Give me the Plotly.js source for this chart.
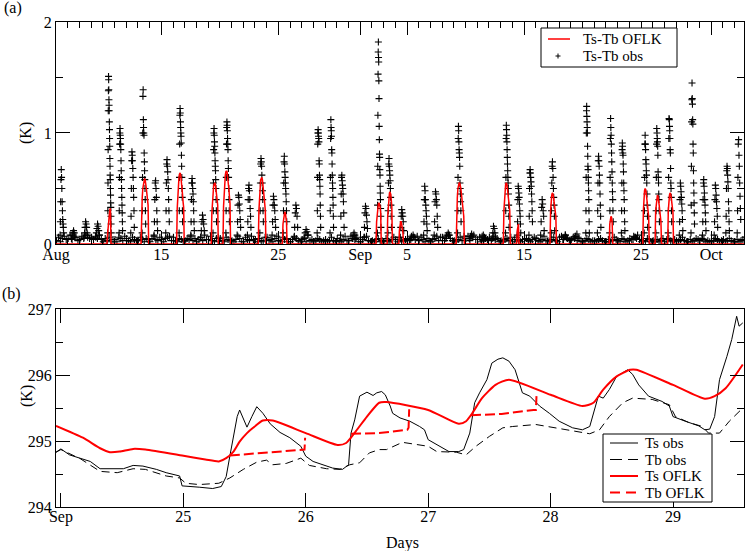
<!DOCTYPE html>
<html>
<head>
<meta charset="utf-8">
<script src="https://cdn.plot.ly/plotly-3.0.1.min.js"></script>
<style>html,body{margin:0;padding:0;background:#fff;}#chart{width:746px;height:551px;}</style>
</head>
<body>
<div id="chart"></div>
<script>
// ---------------- Panel (a) data : day numbers (Aug d = d, Sep d = 31+d, Oct d = 61+d)
const topTickVals = [6, 15, 25, 32, 36, 46, 56, 62];
const topTickText = ['Aug', '15', '25', 'Sep', '5', '15', '25', 'Oct'];
const firstDay = 6;

// night/background Ts-Tb obs, hundredths of K, 6 samples per day (days 6..64)
const baseHund = [
 [3,6,2,5,7,4],[5,8,4,7,6,3],[4,7,5,8,6,5],[6,4,7,5,8,4],[2,5,3,6,2,4],[4,2,6,5,3,7],
 [5,3,2,6,4,3],[3,6,4,2,5,4],[2,5,7,4,3,6],[4,2,5,6,7,3],[6,3,2,5,4,2],[3,5,4,7,3,5],
 [2,4,6,3,8,4],[4,7,3,2,5,6],[5,3,2,6,4,3],[3,2,4,7,5,2],[2,6,4,3,7,4],[4,2,5,3,2,6],
 [6,3,4,2,5,7],[3,2,6,4,5,2],[2,4,7,5,3,2],[4,6,2,8,3,4],[2,3,5,4,2,3],[4,2,3,6,3,2],
 [5,3,2,4,7,3],[3,7,5,4,6,2],[2,4,6,7,3,2],[3,2,4,5,2,3],[2,5,3,2,4,6],[4,2,6,3,2,4],
 [5,3,7,6,4,7],[3,6,4,2,5,3],[2,4,5,7,3,6],[6,3,7,8,5,3],[3,2,4,6,3,7],[5,7,3,6,8,4],
 [4,6,2,3,5,4],[6,3,7,4,5,2],[3,2,4,5,3,6],[2,4,6,3,2,4],[4,5,3,2,4,6],[5,3,2,4,7,3],
 [3,2,4,6,3,2],[6,7,4,8,5,3],[4,6,7,3,5,2],[2,3,5,4,2,3],[3,2,4,5,3,2],[2,4,2,3,6,4],
 [3,2,5,4,2,3],[5,4,7,6,8,4],[2,3,2,5,4,2],[3,2,4,2,3,5],[2,4,5,3,2,4],[3,2,4,6,3,2],
 [2,4,2,3,5,4],[3,5,4,2,3,2],[2,3,5,4,2,3],[4,2,3,5,3,2],[2,4,2,3,4,6]
];

// daytime burst of each day (time of peak, days) and its values (K)
const colCenter = [6.43,7.4,8.48,9.48,10.5,11.47,12.47,13.44,14.46,15.46,16.6,17.6,18.45,19.5,20.6,
 21.56,22.44,23.5,24.55,25.5,26.43,27.3,28.4,29.5,30.4,31.4,32.4,33.55,34.45,35.5,36.4,37.5,38.4,
 39.4,40.4,41.4,42.4,43.35,44.5,45.5,46.5,47.5,48.4,49.4,50.4,51.36,52.35,53.4,54.4,55.4,56.35,
 57.35,58.4,59.35,60.35,61.33,62.33,63.33,64.3];
const colVals = [
 [0.08,0.2,0.38,0.58,0.67,0.6,0.5,0.38,0.3,0.22,0.18,0.15,0.1],
 [0.05,0.08,0.1,0.12,0.1,0.06],
 [0.06,0.1,0.15,0.2,0.18,0.15,0.1,0.08],
 [0.06,0.1,0.14,0.18,0.16,0.12,0.08],
 [0.1,0.3,0.55,0.85,1.2,1.38,1.51,1.48,1.39,1.3,1.25,1.2,1.1,1.03,0.95,0.88,0.77,0.7,0.62,0.58,0.5,0.44,0.37,0.33,0.25,0.18,0.1],
 [0.1,0.3,0.6,0.9,1.0,1.04,0.98,0.95,0.9,0.85,0.75,0.66,0.58,0.5,0.42,0.35,0.28,0.2,0.12],
 [0.1,0.25,0.5,0.75,0.83,0.8,0.75,0.68,0.6,0.5,0.42,0.3,0.15],
 [0.1,0.3,0.6,1.0,1.33,1.39,1.12,1.05,1.0,0.98,0.82,0.74,0.66,0.58,0.5,0.4,0.3,0.18],
 [0.08,0.2,0.4,0.55,0.57,0.5,0.42,0.3,0.2,0.12],
 [0.1,0.3,0.55,0.72,0.76,0.7,0.65,0.58,0.5,0.4,0.3,0.2],
 [0.1,0.3,0.6,0.9,1.16,1.22,1.18,1.1,1.05,1.0,0.97,0.91,0.8,0.7,0.6,0.5,0.42,0.3,0.2],
 [0.08,0.2,0.4,0.55,0.59,0.55,0.5,0.45,0.38,0.3,0.2,0.12],
 [0.06,0.12,0.2,0.26,0.22,0.18,0.12],
 [0.1,0.3,0.55,0.85,1.0,1.04,0.98,0.92,0.88,0.82,0.75,0.7,0.66,0.58,0.5,0.4,0.3,0.2],
 [0.1,0.3,0.6,0.9,1.05,1.1,1.07,1.02,0.95,0.9,0.85,0.75,0.68,0.6,0.5,0.4,0.3,0.2],
 [0.08,0.2,0.35,0.44,0.42,0.36,0.3,0.22,0.15],
 [0.08,0.2,0.4,0.5,0.53,0.48,0.4,0.32,0.25,0.15],
 [0.1,0.3,0.55,0.72,0.77,0.74,0.7,0.62,0.55,0.48,0.4,0.3,0.2],
 [0.08,0.2,0.35,0.43,0.4,0.35,0.3,0.22,0.15],
 [0.1,0.3,0.55,0.74,0.79,0.72,0.65,0.6,0.55,0.5,0.45,0.38,0.3,0.2],
 [0.06,0.15,0.28,0.35,0.32,0.25,0.15],
 [0.05,0.1,0.13,0.11,0.08],
 [0.1,0.3,0.6,0.9,1.0,1.03,1.0,0.97,0.95,0.92,0.75,0.72,0.62,0.58,0.52,0.45,0.35,0.25,0.15],
 [0.1,0.3,0.6,0.95,1.12,1.05,1.02,0.97,0.85,0.82,0.72,0.62,0.55,0.5,0.42,0.35,0.25,0.15],
 [0.08,0.25,0.45,0.6,0.62,0.57,0.53,0.5,0.45,0.38,0.28,0.15],
 [0.05,0.08,0.1,0.08,0.05],
 [0.06,0.15,0.28,0.34,0.32,0.26,0.2,0.14],
 [0.1,0.35,0.7,1.16,1.53,1.73,1.82,1.68,1.64,1.47,1.31,1.06,0.94,0.81,0.78,0.67,0.62,0.52,0.46,0.4,0.32,0.25,0.15],
 [0.1,0.3,0.55,0.72,0.77,0.7,0.66,0.62,0.57,0.5,0.42,0.35,0.25,0.15],
 [0.06,0.15,0.25,0.31,0.28,0.25,0.2,0.12],
 [0.04,0.06,0.08,0.06],
 [0.08,0.2,0.4,0.52,0.48,0.4,0.35,0.3,0.25,0.18,0.12],
 [0.08,0.2,0.38,0.47,0.45,0.4,0.35,0.25,0.15],
 [0.05,0.08,0.1,0.08],
 [0.1,0.3,0.6,0.95,1.06,1.02,0.92,0.85,0.82,0.78,0.7,0.55,0.5,0.45,0.38,0.3,0.2],
 [0.05,0.07,0.09,0.07],
 [0.04,0.07,0.08,0.06],
 [0.05,0.1,0.16,0.14,0.1,0.06],
 [0.1,0.3,0.6,0.95,1.07,1.03,0.98,0.92,0.85,0.78,0.72,0.66,0.6,0.55,0.5,0.45,0.35,0.25,0.15],
 [0.08,0.2,0.4,0.52,0.5,0.46,0.42,0.36,0.3,0.25,0.18,0.1],
 [0.08,0.25,0.5,0.64,0.67,0.64,0.6,0.56,0.52,0.45,0.38,0.3,0.2],
 [0.08,0.2,0.33,0.4,0.36,0.3,0.25,0.12],
 [0.1,0.3,0.55,0.7,0.74,0.68,0.6,0.5,0.42,0.35,0.25,0.12],
 [0.04,0.06,0.08,0.06],
 [0.05,0.07,0.09,0.06],
 [0.1,0.3,0.6,1.0,1.2,1.24,1.15,1.1,1.05,1.0,0.88,0.79,0.7,0.67,0.6,0.55,0.48,0.4,0.3,0.2,0.1],
 [0.1,0.3,0.55,0.75,0.79,0.75,0.7,0.62,0.55,0.45,0.35,0.25,0.15],
 [0.1,0.3,0.6,0.95,1.13,1.05,0.98,0.9,0.82,0.74,0.65,0.55,0.47,0.4,0.3,0.2],
 [0.1,0.3,0.55,0.85,0.91,0.88,0.82,0.8,0.72,0.65,0.55,0.48,0.4,0.3,0.2,0.12],
 [0.04,0.06,0.05],
 [0.1,0.3,0.6,0.9,0.98,0.9,0.85,0.76,0.72,0.66,0.62,0.55,0.45,0.35,0.25,0.15],
 [0.1,0.3,0.6,0.9,1.04,1.0,0.95,0.92,0.88,0.8,0.65,0.6,0.55,0.45,0.4,0.3,0.2],
 [0.1,0.3,0.6,0.95,1.13,1.12,1.06,1.02,0.95,0.85,0.82,0.68,0.55,0.5,0.42,0.3,0.2],
 [0.08,0.2,0.4,0.55,0.52,0.47,0.42,0.36,0.3,0.22,0.12],
 [0.1,0.35,0.7,1.1,1.3,1.45,1.31,1.26,1.12,1.08,0.9,0.82,0.66,0.55,0.46,0.37,0.28,0.18],
 [0.08,0.2,0.4,0.55,0.58,0.52,0.46,0.4,0.35,0.28,0.2,0.12],
 [0.08,0.2,0.4,0.53,0.5,0.44,0.38,0.32,0.25,0.15],
 [0.1,0.25,0.5,0.66,0.7,0.68,0.62,0.56,0.5,0.38,0.3,0.2,0.12],
 [0.1,0.3,0.6,0.9,0.94,0.8,0.7,0.55,0.43,0.32,0.22]
];

// OFLK Ts-Tb : start time of each stratification event and values every 0.05 day
const spikeStart = [10.35,13.27,16.31,19.27,20.27,23.29,25.35,33.35,34.3,35.3,40.2,44.23,45.37,48.22,53.28,56.15,57.2,58.28];
const spikeVals = [
 [0,0.08,0.16,0.22,0.27,0.31,0.32,0],
 [0,0.3,0.42,0.5,0.55,0.58,0.59,0.58,0.55,0.5,0.45,0.4,0.35,0],
 [0,0.32,0.46,0.55,0.6,0.63,0.64,0.62,0.58,0.52,0.45,0.38,0.33,0],
 [0,0.28,0.4,0.47,0.52,0.54,0.55,0.54,0.5,0.46,0.4,0.35,0],
 [0,0.34,0.48,0.57,0.62,0.65,0.66,0.65,0.61,0.56,0.5,0.43,0.37,0],
 [0,0.3,0.44,0.52,0.57,0.59,0.6,0.58,0.54,0.48,0.42,0.36,0.3,0],
 [0,0.18,0.24,0.27,0.29,0.28,0.25,0.2,0],
 [0,0.2,0.28,0.33,0.36,0.37,0.36,0.33,0.28,0],
 [0,0.25,0.35,0.42,0.46,0.47,0.45,0.4,0.34,0],
 [0,0.12,0.17,0.2,0.2,0.18,0.14,0.1,0],
 [0,0.3,0.42,0.5,0.54,0.55,0.55,0.53,0.5,0.45,0.4,0.35,0.3,0.25,0],
 [0,0.3,0.42,0.5,0.54,0.55,0.54,0.5,0.45,0.4,0.35,0.3,0],
 [0,0.12,0.16,0.18,0],
 [0,0.3,0.4,0.44,0.46,0.45,0.42,0.38,0.34,0.3,0.25,0],
 [0,0.18,0.23,0.25,0.24,0.2,0],
 [0,0.3,0.42,0.48,0.5,0.49,0.45,0.4,0.35,0.3,0.25,0],
 [0,0.3,0.38,0.42,0.44,0.43,0.4,0.35,0.3,0.25,0.2,0],
 [0,0.3,0.4,0.44,0.46,0.45,0.42,0.38,0.33,0.28,0]
];
const spikeStep = 0.05;
const topRange = [6, 64.8];

// ---------------- Panel (b) data : days of September
const botTickVals = [24, 25, 26, 27, 28, 29];
const botTickText = ['Sep', '25', '26', '27', '28', '29'];

const tsObsX = [23.96,24.0,24.07,24.16,24.24,24.32,24.40,24.51,24.59,24.67,24.78,24.86,24.97,24.99,25.13,25.24,25.31,25.35,25.38,25.41,25.44,25.46,25.49,25.52,25.56,25.60,25.65,25.71,25.79,25.87,25.96,26.0,26.06,26.14,26.22,26.30,26.35,26.37,26.40,26.44,26.50,26.55,26.58,26.62,26.65,26.69,26.71,26.77,26.85,26.93,26.97,27.0,27.09,27.17,27.25,27.29,27.34,27.38,27.42,27.48,27.52,27.57,27.61,27.66,27.71,27.75,27.77,27.83,27.91,27.99,28.07,28.18,28.26,28.32,28.36,28.39,28.43,28.48,28.54,28.59,28.63,28.67,28.72,28.80,28.91,28.97,29.0,29.10,29.21,29.26,29.30,29.34,29.38,29.44,29.48,29.52,29.54,29.57];
const tsObsY = [294.83,294.88,294.79,294.74,294.69,294.58,294.58,294.58,294.63,294.62,294.57,294.52,294.47,294.32,294.30,294.28,294.31,294.46,294.77,295.07,295.37,295.47,295.35,295.21,295.37,295.52,295.42,295.26,295.13,295.05,294.92,294.77,294.69,294.64,294.59,294.57,294.64,295.12,295.32,295.68,295.74,295.69,295.73,295.75,295.70,295.53,295.42,295.35,295.30,295.22,295.17,295.02,294.92,294.84,294.84,294.87,295.12,295.58,295.73,295.93,296.18,296.24,296.26,296.21,296.08,295.83,295.73,295.68,295.53,295.42,295.30,295.20,295.17,295.22,295.47,295.68,295.65,295.78,295.98,296.03,296.08,296.01,295.85,295.68,295.60,295.53,295.37,295.30,295.23,295.17,295.18,295.37,295.93,296.28,296.54,296.89,296.74,296.79];

const tbObsX = [23.96,24.0,24.16,24.32,24.46,24.59,24.69,24.86,24.97,25.02,25.13,25.29,25.38,25.49,25.60,25.68,25.73,25.84,25.96,26.03,26.17,26.28,26.36,26.44,26.52,26.60,26.66,26.79,27.0,27.07,27.23,27.31,27.39,27.50,27.61,27.69,27.88,28.04,28.21,28.32,28.40,28.48,28.59,28.67,28.83,28.97,29.02,29.13,29.24,29.29,29.38,29.46,29.57];
const tbObsY = [294.83,294.87,294.73,294.54,294.52,294.58,294.57,294.47,294.44,294.36,294.34,294.36,294.44,294.57,294.68,294.71,294.64,294.66,294.74,294.63,294.58,294.57,294.64,294.67,294.82,294.87,294.87,294.98,294.92,294.84,294.83,294.79,294.92,295.07,295.20,295.22,295.25,295.20,295.15,295.11,295.17,295.37,295.58,295.65,295.63,295.55,295.37,295.28,295.22,295.12,295.12,295.30,295.50];

const tsOflkX = [23.96,24.18,24.32,24.40,24.48,24.59,24.69,24.99,25.18,25.29,25.35,25.41,25.46,25.52,25.57,25.65,25.73,26.0,26.26,26.33,26.41,26.50,26.60,26.66,27.0,27.25,27.31,27.36,27.44,27.55,27.66,28.0,28.26,28.35,28.43,28.54,28.65,28.70,29.0,29.26,29.34,29.43,29.57];
const tsOflkY = [295.23,295.05,294.89,294.83,294.84,294.88,294.87,294.78,294.72,294.69,294.74,294.84,294.99,295.12,295.20,295.31,295.31,295.12,294.94,294.97,295.15,295.37,295.58,295.59,295.47,295.26,295.30,295.42,295.65,295.85,295.93,295.70,295.53,295.58,295.78,295.98,296.08,296.08,295.85,295.64,295.68,295.80,296.16];

const tbOflkX = [25.38,25.6,25.8,25.97,25.99,25.995,null,26.37,26.6,26.83,26.84,26.845,null,27.35,27.6,27.86,27.88,27.885];
const tbOflkY = [294.78,294.81,294.84,294.87,294.87,295.05,null,295.11,295.12,295.17,295.2,295.48,null,295.39,295.41,295.47,295.47,295.68];

// ---------------- build panel (a) series from the arrays
const obsX = [], obsY = [];
baseHund.forEach((day, d) => {
  day.forEach((v, k) => { obsX.push(firstDay + d + 0.04 + k / 6); obsY.push(v / 100); });
});
colVals.forEach((vals, i) => {
  const start = colCenter[i] - 0.08, n = vals.length;
  vals.forEach((v, k) => { obsX.push(start + 0.3 * k / (n - 1)); obsY.push(v); });
});
const ofX = [topRange[0]], ofY = [0];
spikeStart.forEach((s, i) => {
  spikeVals[i].forEach((v, k) => { ofX.push(s + k * spikeStep); ofY.push(v); });
});
ofX.push(topRange[1]); ofY.push(0);

const RED = 'rgb(255,0,0)';
const FAM = 'Liberation Serif';
const FONT = {family: FAM, size: 16, color: '#000'};
const LFONT = {family: FAM, size: 15, color: '#000'};

const traces = [
  {x: obsX, y: obsY, xaxis: 'x', yaxis: 'y', type: 'scatter', mode: 'markers', name: 'Ts-Tb obs',
   marker: {symbol: 'cross-thin', size: 5, color: '#000', line: {width: 1.1, color: '#000'}}, showlegend: false},
  {x: ofX, y: ofY, xaxis: 'x', yaxis: 'y', type: 'scatter', mode: 'lines', name: 'Ts-Tb OFLK',
   line: {color: RED, width: 1.5}, showlegend: false},
  {x: tsObsX, y: tsObsY, xaxis: 'x2', yaxis: 'y2', type: 'scatter', mode: 'lines', name: 'Ts obs',
   line: {color: '#000', width: 1}, showlegend: false},
  {x: tbObsX, y: tbObsY, xaxis: 'x2', yaxis: 'y2', type: 'scatter', mode: 'lines', name: 'Tb obs',
   line: {color: '#000', width: 1, dash: '8px,5px'}, showlegend: false},
  {x: tsOflkX, y: tsOflkY, xaxis: 'x2', yaxis: 'y2', type: 'scatter', mode: 'lines', name: 'Ts OFLK',
   line: {color: RED, width: 2, shape: 'spline', smoothing: 0.6}, showlegend: false},
  {x: tbOflkX, y: tbOflkY, xaxis: 'x2', yaxis: 'y2', type: 'scatter', mode: 'lines', name: 'Tb OFLK',
   line: {color: RED, width: 2, dash: '10px,4px'}, connectgaps: false, showlegend: false}
];

// pixel -> paper helpers for decorations
const PX = p => (p - 56) / 688;
const PY = p => (507 - p) / 485;

const axisCommon = {showgrid: false, zeroline: false, showline: true, linecolor: '#000', linewidth: 1,
  ticks: 'inside', tickcolor: '#000', tickwidth: 1, mirror: 'ticks', tickfont: FONT};

const T1 = 39, T2 = 56;                    // legend (a) rows
const B = [443, 459.5, 476, 492.5];        // legend (b) rows

const layout = {
  width: 746, height: 551,
  margin: {l: 56, r: 2, t: 22, b: 44},
  paper_bgcolor: '#fff', plot_bgcolor: '#fff',
  font: FONT, showlegend: false,
  xaxis: Object.assign({}, axisCommon, {domain: [0, 1], anchor: 'y', range: topRange,
    tickmode: 'array', tickvals: topTickVals, ticktext: topTickText, ticklen: 13, ticklabelstandoff: -4,
    minor: {tick0: 6, dtick: 1, ticks: 'inside', ticklen: 6, tickcolor: '#000', tickwidth: 1}}),
  yaxis: Object.assign({}, axisCommon, {domain: [0.5423, 1], anchor: 'x', range: [0, 2],
    tickmode: 'array', tickvals: [0, 1, 2], ticklen: 14,
    minor: {tick0: 0, dtick: 0.5, ticks: 'inside', ticklen: 7, tickcolor: '#000', tickwidth: 1}}),
  xaxis2: Object.assign({}, axisCommon, {domain: [0, 1], anchor: 'y2', range: [23.96, 29.58],
    tickmode: 'array', tickvals: botTickVals, ticktext: botTickText, ticklen: 14, ticklabelstandoff: -5}),
  yaxis2: Object.assign({}, axisCommon, {domain: [0, 0.4082], anchor: 'x2', range: [294, 297],
    tickmode: 'array', tickvals: [294, 295, 296, 297], ticklen: 14,
    minor: {tick0: 294, dtick: 0.5, ticks: 'inside', ticklen: 7, tickcolor: '#000', tickwidth: 1}}),
  shapes: [
    // legend (a)
    {type: 'rect', xref: 'paper', yref: 'paper', x0: PX(541), x1: PX(677), y0: PY(67), y1: PY(28),
     line: {color: '#000', width: 1}, fillcolor: '#fff', layer: 'above'},
    {type: 'line', xref: 'paper', yref: 'paper', x0: PX(548), x1: PX(570), y0: PY(T1), y1: PY(T1),
     line: {color: RED, width: 1.5}, layer: 'above'},
    {type: 'line', xref: 'paper', yref: 'paper', x0: PX(555.5), x1: PX(560.5), y0: PY(T2), y1: PY(T2),
     line: {color: '#000', width: 1}, layer: 'above'},
    {type: 'line', xref: 'paper', yref: 'paper', x0: PX(558), x1: PX(558), y0: PY(T2 - 2.5), y1: PY(T2 + 2.5),
     line: {color: '#000', width: 1}, layer: 'above'},
    // legend (b)
    {type: 'rect', xref: 'paper', yref: 'paper', x0: PX(603), x1: PX(712), y0: PY(502), y1: PY(434),
     line: {color: '#000', width: 1}, fillcolor: '#fff', layer: 'above'},
    {type: 'line', xref: 'paper', yref: 'paper', x0: PX(610), x1: PX(638), y0: PY(B[0]), y1: PY(B[0]),
     line: {color: '#000', width: 1}, layer: 'above'},
    {type: 'line', xref: 'paper', yref: 'paper', x0: PX(610), x1: PX(638), y0: PY(B[1]), y1: PY(B[1]),
     line: {color: '#000', width: 1, dash: '12px,6px'}, layer: 'above'},
    {type: 'line', xref: 'paper', yref: 'paper', x0: PX(610), x1: PX(638), y0: PY(B[2]), y1: PY(B[2]),
     line: {color: RED, width: 2}, layer: 'above'},
    {type: 'line', xref: 'paper', yref: 'paper', x0: PX(610), x1: PX(638), y0: PY(B[3]), y1: PY(B[3]),
     line: {color: RED, width: 2, dash: '10px,6px'}, layer: 'above'}
  ],
  annotations: [
    {text: '(a)', xref: 'paper', yref: 'paper', x: PX(2), y: PY(8), xanchor: 'left', yanchor: 'middle', showarrow: false, font: FONT},
    {text: '(b)', xref: 'paper', yref: 'paper', x: PX(0), y: PY(294), xanchor: 'left', yanchor: 'middle', showarrow: false, font: FONT},
    {text: '(K)', xref: 'paper', yref: 'paper', x: PX(26), y: PY(133), xanchor: 'center', yanchor: 'middle', textangle: -90, showarrow: false, font: FONT},
    {text: '(K)', xref: 'paper', yref: 'paper', x: PX(27), y: PY(396), xanchor: 'center', yanchor: 'middle', textangle: -90, showarrow: false, font: FONT},
    {text: 'Days', xref: 'paper', yref: 'paper', x: PX(402), y: PY(543), xanchor: 'center', yanchor: 'middle', showarrow: false, font: FONT},
    {text: 'Ts-Tb OFLK', xref: 'paper', yref: 'paper', x: PX(582), y: PY(T1), xanchor: 'left', yanchor: 'middle', showarrow: false, font: LFONT, borderpad: 0},
    {text: 'Ts-Tb obs', xref: 'paper', yref: 'paper', x: PX(582), y: PY(T2), xanchor: 'left', yanchor: 'middle', showarrow: false, font: LFONT, borderpad: 0},
    {text: 'Ts obs', xref: 'paper', yref: 'paper', x: PX(644), y: PY(B[0]), xanchor: 'left', yanchor: 'middle', showarrow: false, font: LFONT, borderpad: 0},
    {text: 'Tb obs', xref: 'paper', yref: 'paper', x: PX(644), y: PY(B[1]), xanchor: 'left', yanchor: 'middle', showarrow: false, font: LFONT, borderpad: 0},
    {text: 'Ts OFLK', xref: 'paper', yref: 'paper', x: PX(644), y: PY(B[2]), xanchor: 'left', yanchor: 'middle', showarrow: false, font: LFONT, borderpad: 0},
    {text: 'Tb OFLK', xref: 'paper', yref: 'paper', x: PX(644), y: PY(B[3]), xanchor: 'left', yanchor: 'middle', showarrow: false, font: LFONT, borderpad: 0}
  ]
};

Plotly.newPlot('chart', traces, layout, {displayModeBar: false, staticPlot: true});
</script>
</body>
</html>
